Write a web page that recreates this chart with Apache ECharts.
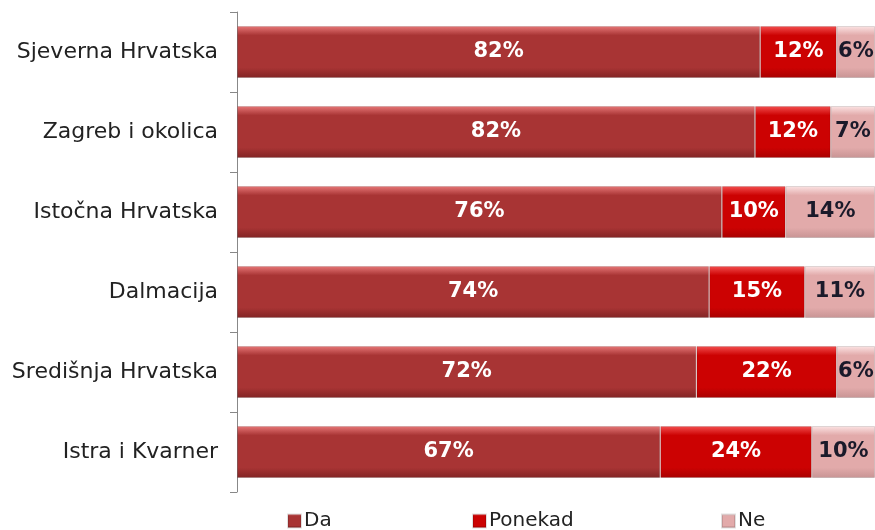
<!DOCTYPE html>
<html>
<head>
<meta charset="utf-8">
<script src="https://cdn.jsdelivr.net/npm/echarts@6/dist/echarts.min.js"></script>
<style>
  html, body { margin: 0; padding: 0; background: #fff; }
  #main { width: 875px; height: 530px; }
</style>
</head>
<body>
<div id="main"></div>
<script>
// regije, odozgo prema dolje
const regions = ["Sjeverna Hrvatska", "Zagreb i okolica", "Istočna Hrvatska", "Dalmacija", "Središnja Hrvatska", "Istra i Kvarner"];
const da = [82, 82, 76, 74, 72, 67];
const ponekad = [12, 12, 10, 15, 22, 24];
const ne = [6, 7, 14, 11, 6, 10];

// 100% stacked: sirina = udio u zbroju reda, oznaka = procitana vrijednost
const rowSum = regions.map((r, i) => da[i] + ponekad[i] + ne[i]);
const share = (arr) => arr.map((v, i) => ({ value: v / rowSum[i] * 100, raw: v }));

function grad(top, mid, bot) {
  return new echarts.graphic.LinearGradient(0, 0, 0, 1, [
    { offset: 0, color: top },
    { offset: 0.18, color: mid },
    { offset: 0.8, color: mid },
    { offset: 1, color: bot }
  ]);
}

const labelFont = { fontFamily: 'DejaVu Sans', fontWeight: 'bold', fontSize: 21 };

function mkSeries(name, arr, color, textColor) {
  return {
    name,
    type: 'bar',
    stack: 'all',
    barWidth: 52,
    data: share(arr),
    itemStyle: { color, borderColor: 'rgba(0,0,0,0.12)', borderWidth: 1 },
    label: {
      show: true,
      position: 'inside',
      color: textColor,
      ...labelFont,
      formatter: p => p.data.raw + '%'
    }
  };
}

var myChart = echarts.init(document.getElementById('main'));
var legendText = { fontFamily: 'DejaVu Sans', fontSize: 20, color: '#222', padding: [0, 0, 0, -2] };
var legendBase = { top: 506, itemWidth: 13, itemHeight: 13, itemGap: 0, icon: 'rect', textStyle: legendText };
var option = {
  animation: false,
  grid: { left: 237, right: 0, top: 12, bottom: 38 },
  legend: [
    { ...legendBase, data: ['Da'], left: 282 },
    { ...legendBase, data: ['Ponekad'], left: 467 },
    { ...legendBase, data: ['Ne'], left: 716 }
  ],
  xAxis: {
    type: 'value',
    min: 0,
    max: 100,
    show: false
  },
  yAxis: {
    type: 'category',
    inverse: true,
    data: regions,
    axisLine: { show: true, lineStyle: { color: '#888' } },
    axisTick: { show: true, length: 7, lineStyle: { color: '#888' } },
    axisLabel: { fontFamily: 'DejaVu Sans', fontSize: 22, color: '#222', margin: 19 }
  },
  series: [
    mkSeries('Da', da, grad('#e87878', '#a83434', '#822424'), '#fff'),
    mkSeries('Ponekad', ponekad, grad('#f45050', '#cc0202', '#a80000'), '#fff'),
    mkSeries('Ne', ne, grad('#fce4e4', '#e2aaaa', '#c89494'), '#1a1a2a')
  ]
};
myChart.setOption(option);
</script>
</body>
</html>
